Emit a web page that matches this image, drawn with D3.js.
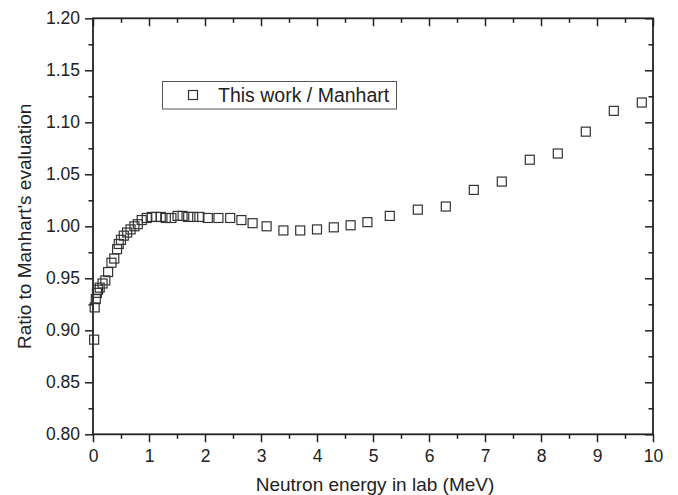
<!DOCTYPE html>
<html>
<head>
<meta charset="utf-8">
<script src="https://cdn.jsdelivr.net/npm/d3@7"></script>
<style>
  body { margin: 0; background: #fff; }
  svg text { font-family: "Liberation Sans", Arial, Helvetica, sans-serif; fill: #222; }
</style>
</head>
<body>
<svg id="vis" width="678" height="495"></svg>
<script>
// ratio data
var energy = [0.02, 0.03, 0.05, 0.07, 0.09, 0.12, 0.17, 0.22, 0.27, 0.33, 0.38, 0.43, 0.46, 0.50,
  0.55, 0.61, 0.67, 0.74, 0.80, 0.87, 0.96, 1.05, 1.13, 1.21, 1.30, 1.40, 1.51, 1.60, 1.70,
  1.79, 1.90, 2.05, 2.24, 2.45, 2.65, 2.85, 3.1, 3.4, 3.7, 4.0, 4.3, 4.6, 4.9, 5.3, 5.8,
  6.3, 6.8, 7.3, 7.8, 8.3, 8.8, 9.3, 9.8];
var ratio = [0.891, 0.922, 0.930, 0.936, 0.939, 0.941, 0.945, 0.948, 0.956, 0.965, 0.969, 0.978, 0.983, 0.987,
  0.991, 0.994, 0.997, 1.000, 1.002, 1.006, 1.008, 1.009, 1.009, 1.009, 1.008, 1.008, 1.010, 1.010, 1.009,
  1.009, 1.009, 1.008, 1.008, 1.008, 1.006, 1.003, 1.000, 0.996, 0.996, 0.997, 0.999, 1.001, 1.004, 1.010, 1.016,
  1.019, 1.035, 1.043, 1.064, 1.070, 1.091, 1.111, 1.119];

var xTicks = [0, 1, 2, 3, 4, 5, 6, 7, 8, 9, 10];
var xMinor = [0.5, 1.5, 2.5, 3.5, 4.5, 5.5, 6.5, 7.5, 8.5, 9.5];
var yTicks = [0.80, 0.85, 0.90, 0.95, 1.00, 1.05, 1.10, 1.15, 1.20];
var yMinor = [0.825, 0.875, 0.925, 0.975, 1.025, 1.075, 1.125, 1.175];
var legendLabel = "This work / Manhart";

// plot box (window.top is taken, so own names)
var pLeft = 93, pRight = 653, pTop = 18.3, pBottom = 434.3;

var svg = d3.select("#vis");

var x = d3.scaleLinear().domain([0, 10]).range([pLeft, pRight]);
var y = d3.scaleLinear().domain([0.8, 1.2]).range([pBottom, pTop]);

function styleAxis(g) {
  g.select(".domain").remove();
  g.selectAll("line").attr("stroke", "#222").attr("stroke-width", 1.5);
  g.selectAll("text").style("font-size", "17.5px").attr("fill", "#222");
}

// bottom axis, ticks outward
svg.append("g").attr("transform", "translate(0," + pBottom + ")")
  .call(d3.axisBottom(x).tickValues(xTicks).tickSize(8).tickPadding(7).tickFormat(d3.format("d")))
  .call(styleAxis);
svg.append("g").attr("transform", "translate(0," + pBottom + ")")
  .call(d3.axisBottom(x).tickValues(xMinor).tickSize(4.5).tickFormat(""))
  .call(styleAxis);

// top axis, ticks inward
svg.append("g").attr("transform", "translate(0," + pTop + ")")
  .call(d3.axisBottom(x).tickValues(xTicks).tickSize(8).tickFormat(""))
  .call(styleAxis);
svg.append("g").attr("transform", "translate(0," + pTop + ")")
  .call(d3.axisBottom(x).tickValues(xMinor).tickSize(4.5).tickFormat(""))
  .call(styleAxis);

// left axis, ticks outward
svg.append("g").attr("transform", "translate(" + pLeft + ",0)")
  .call(d3.axisLeft(y).tickValues(yTicks).tickSize(8).tickPadding(5).tickFormat(d3.format(".2f")))
  .call(styleAxis);
svg.append("g").attr("transform", "translate(" + pLeft + ",0)")
  .call(d3.axisLeft(y).tickValues(yMinor).tickSize(4.5).tickFormat(""))
  .call(styleAxis);

// right axis, ticks inward
svg.append("g").attr("transform", "translate(" + pRight + ",0)")
  .call(d3.axisLeft(y).tickValues(yTicks).tickSize(8).tickFormat(""))
  .call(styleAxis);
svg.append("g").attr("transform", "translate(" + pRight + ",0)")
  .call(d3.axisLeft(y).tickValues(yMinor).tickSize(4.5).tickFormat(""))
  .call(styleAxis);

// frame
svg.append("rect")
  .attr("x", pLeft).attr("y", pTop)
  .attr("width", pRight - pLeft).attr("height", pBottom - pTop)
  .attr("fill", "none").attr("stroke", "#222").attr("stroke-width", 1.8);

// points
var s = 9;
svg.append("g").selectAll("rect")
  .data(energy)
  .enter().append("rect")
  .attr("x", function(d) { return x(d) - s / 2; })
  .attr("y", function(d, i) { return y(ratio[i]) - s / 2; })
  .attr("width", s).attr("height", s)
  .attr("fill", "none").attr("stroke", "#333").attr("stroke-width", 1.2);

// legend
svg.append("rect")
  .attr("x", 162.5).attr("y", 81.5).attr("width", 234).attr("height", 27.5)
  .attr("fill", "#fff").attr("stroke", "#555").attr("stroke-width", 1);
svg.append("rect")
  .attr("x", 193 - s / 2).attr("y", 95 - s / 2).attr("width", s).attr("height", s)
  .attr("fill", "none").attr("stroke", "#333").attr("stroke-width", 1.2);
svg.append("text")
  .attr("x", 218).attr("y", 101.5)
  .style("font-size", "19.5px")
  .text(legendLabel);

// axis titles
svg.append("text")
  .attr("x", (pLeft + pRight) / 2 + 2).attr("y", 491)
  .attr("text-anchor", "middle")
  .style("font-size", "19px")
  .text("Neutron energy in lab (MeV)");

svg.append("text")
  .attr("transform", "translate(31," + ((pTop + pBottom) / 2) + ") rotate(-90)")
  .attr("text-anchor", "middle")
  .style("font-size", "19px")
  .text("Ratio to Manhart's evaluation");
</script>
</body>
</html>
